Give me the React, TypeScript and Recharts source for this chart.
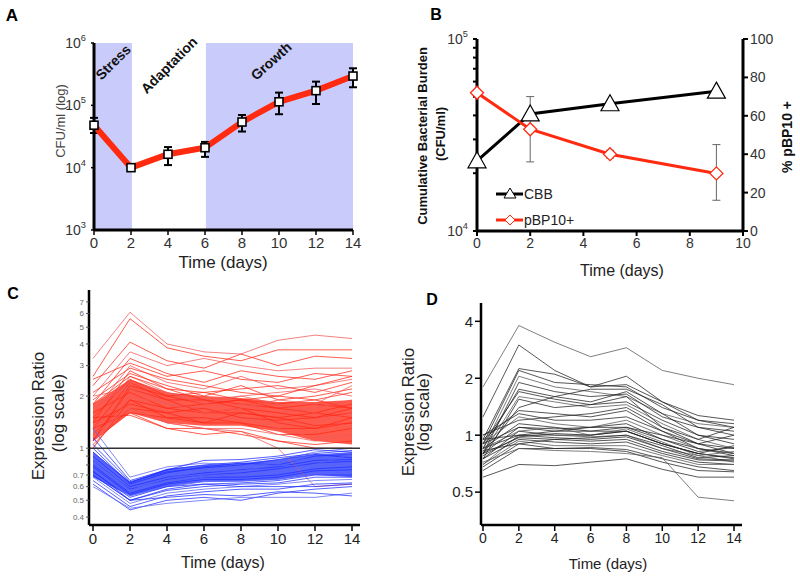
import React from 'react';
import { ComposedChart, Line, Area, XAxis, YAxis, ReferenceArea, ReferenceLine, ErrorBar } from 'recharts';

const FONT = '"Liberation Sans", Arial, Helvetica, sans-serif';

// ---- Panel A: CFU over time ----
const DAYS_A = [0, 2, 4, 6, 8, 10, 12, 14];
const CFU_A = [48000, 10000, 16400, 20900, 54000, 114000, 172000, 295000];
const CFU_ERR_LOW = [12000, null, 5400, 6000, 16000, 42000, 67000, 100000];
const CFU_ERR_HIGH = [15000, null, 5000, 5000, 16000, 46000, 68000, 98000];

// ---- Panel B: cumulative burden vs plasmid carriage ----
const DAYS_B = [0, 2, 5, 9];
const CBB = [23200, 40700, 46000, 53500];
const PBP10 = [72, 53, 40, 30];
const PBP10_ERR_LOW = [0, 17, 2, 14];
const PBP10_ERR_HIGH = [0, 17, 2, 15];

// ---- Panel C: expression ratios, up (red) and down (blue) genes ----
const DAYS_C = [0, 2, 4, 6, 8, 10, 12, 14];
const RED_BAND_LOW = [1.1, 1.6, 1.4, 1.35, 1.35, 1.25, 1.1, 1.05];
const RED_BAND_HIGH = [1.8, 2.5, 2.1, 2.0, 1.95, 1.85, 1.85, 1.9];
const BLUE_BAND_LOW = [0.68, 0.53, 0.6, 0.64, 0.64, 0.66, 0.7, 0.68];
const BLUE_BAND_HIGH = [0.95, 0.64, 0.76, 0.8, 0.82, 0.86, 0.92, 0.95];
const RED_LINES = [
  [3.3, 6.1, 4.0, 3.6, 3.5, 4.2, 4.5, 4.3],
  [2.6, 5.6, 3.8, 3.4, 3.2, 3.7, 3.7, 3.7],
  [2.3, 4.1, 3.2, 2.9, 3.5, 3.0, 3.4, 3.3],
  [2.0, 3.6, 3.0, 3.3, 3.0, 2.8, 2.9, 2.9],
  [1.8, 3.3, 2.7, 2.4, 2.8, 2.6, 2.5, 2.8],
  [2.5, 3.1, 2.6, 2.8, 2.5, 2.4, 2.7, 2.6],
  [1.6, 3.0, 2.4, 2.2, 2.6, 2.2, 2.3, 2.5],
  [1.4, 2.8, 2.2, 2.1, 2.2, 2.3, 2.1, 2.4],
  [1.9, 2.7, 2.3, 2.0, 2.3, 1.9, 2.0, 2.2],
  [1.2, 2.6, 2.1, 1.9, 2.0, 2.1, 2.2, 2.0],
  [1.5, 2.5, 2.0, 1.8, 1.9, 1.8, 1.9, 2.1],
  [1.3, 2.4, 1.9, 1.9, 1.8, 1.7, 1.8, 1.7],
  [1.7, 2.3, 1.8, 1.7, 1.8, 1.6, 1.7, 1.9],
  [1.1, 2.2, 1.9, 1.6, 1.7, 1.6, 1.5, 1.6],
  [1.6, 2.1, 1.7, 1.6, 1.6, 1.5, 1.6, 1.5],
  [1.3, 2.0, 1.6, 1.5, 1.5, 1.4, 1.4, 1.6],
  [1.0, 1.9, 1.5, 1.5, 1.4, 1.3, 1.3, 1.4],
  [1.4, 1.8, 1.6, 1.4, 1.4, 1.2, 1.2, 1.3],
  [1.2, 1.7, 1.4, 1.3, 1.3, 1.2, 1.1, 1.2],
  [1.1, 1.6, 1.3, 1.3, 1.2, 1.1, 1.05, 1.1],
  [1.5, 1.55, 1.3, 1.2, 1.25, 1.1, 1.0, 1.0],
  [2.0, 2.2, 1.8, 1.7, 1.5, 1.3, 1.15, 1.2],
  [1.8, 2.6, 2.2, 1.9, 1.7, 1.4, 1.3, 1.5],
  [1.2, 1.9, 1.7, 1.8, 1.9, 1.7, 1.6, 1.8],
  [1.0, 2.0, 1.8, 1.6, 1.7, 1.9, 1.8, 2.3],
  [1.1, 2.3, 2.0, 2.1, 1.9, 2.0, 1.9, 1.7],
  [1.3, 1.6, 1.5, 1.4, 1.6, 1.5, 1.35, 1.4],
  [1.7, 2.4, 2.1, 1.8, 2.0, 1.8, 1.6, 1.3],
  [2.1, 2.9, 2.5, 2.3, 2.1, 2.0, 2.3, 2.6],
  [1.05, 1.7, 1.6, 1.7, 1.5, 1.45, 1.5, 1.7],
  [1.2, 1.7, 1.4, 1.3, 1.25, 1.0, 0.6, 0.62],
];
const BLUE_LINES = [
  [1.3, 0.68, 0.78, 0.82, 0.8, 0.85, 0.95, 1.0],
  [1.15, 0.65, 0.75, 0.85, 0.86, 0.9, 0.98, 0.95],
  [1.0, 0.62, 0.72, 0.78, 0.82, 0.8, 0.9, 0.92],
  [0.95, 0.6, 0.7, 0.75, 0.78, 0.82, 0.88, 0.9],
  [0.9, 0.6, 0.68, 0.72, 0.75, 0.78, 0.85, 0.86],
  [0.85, 0.58, 0.66, 0.7, 0.72, 0.76, 0.82, 0.84],
  [0.82, 0.56, 0.65, 0.7, 0.7, 0.72, 0.8, 0.8],
  [0.8, 0.55, 0.63, 0.68, 0.68, 0.7, 0.76, 0.78],
  [0.78, 0.54, 0.62, 0.66, 0.66, 0.68, 0.74, 0.75],
  [0.75, 0.53, 0.6, 0.64, 0.65, 0.66, 0.72, 0.72],
  [0.73, 0.52, 0.6, 0.62, 0.63, 0.65, 0.7, 0.7],
  [0.7, 0.5, 0.57, 0.6, 0.62, 0.63, 0.68, 0.68],
  [0.68, 0.48, 0.55, 0.58, 0.6, 0.62, 0.65, 0.66],
  [0.65, 0.46, 0.53, 0.56, 0.58, 0.58, 0.62, 0.63],
  [0.62, 0.44, 0.5, 0.52, 0.5, 0.55, 0.58, 0.6],
  [0.6, 0.45, 0.48, 0.5, 0.52, 0.52, 0.52, 0.55],
  [0.7, 0.5, 0.52, 0.54, 0.53, 0.56, 0.55, 0.53],
  [0.95, 0.63, 0.75, 0.8, 0.83, 0.88, 0.93, 0.97],
  [0.88, 0.57, 0.67, 0.74, 0.74, 0.8, 0.78, 0.82],
  [0.74, 0.5, 0.58, 0.62, 0.6, 0.6, 0.6, 0.62],
  [1.05, 0.64, 0.73, 0.77, 0.8, 0.86, 0.92, 0.88],
  [0.85, 0.59, 0.64, 0.68, 0.71, 0.74, 0.8, 0.93],
];

// ---- Panel D: expression ratios of a selected gene set ----
const DAYS_D = [0, 2, 4, 6, 8, 10, 12, 14];
const GRAY_LINES = [
  [1.8, 3.8, 3.1, 2.6, 2.9, 2.2, 2.0, 1.85],
  [1.25, 3.0, 2.2, 1.8, 2.05, 1.5, 1.27, 1.2],
  [0.95, 2.25, 2.1, 1.8, 1.85, 1.5, 1.2, 1.15],
  [0.9, 2.2, 1.9, 1.85, 1.8, 1.4, 1.2, 1.1],
  [0.85, 2.05, 1.8, 1.7, 1.6, 1.3, 1.15, 1.1],
  [0.8, 1.9, 1.7, 1.6, 1.65, 1.25, 1.1, 1.05],
  [0.85, 1.75, 1.6, 1.5, 1.7, 1.3, 1.0, 0.95],
  [0.9, 1.7, 1.55, 1.45, 1.5, 1.2, 1.0, 0.9],
  [0.8, 1.6, 1.5, 1.4, 1.45, 1.15, 0.95, 0.85],
  [0.75, 1.55, 1.4, 1.45, 1.6, 1.1, 0.9, 0.8],
  [0.95, 1.35, 1.3, 1.25, 1.35, 1.05, 0.85, 0.8],
  [1.0, 1.3, 1.2, 1.2, 1.25, 1.05, 0.9, 0.85],
  [0.9, 1.25, 1.15, 1.1, 1.2, 1.0, 0.85, 0.8],
  [0.85, 1.15, 1.1, 1.05, 1.1, 0.95, 0.85, 0.78],
  [0.8, 1.1, 1.05, 1.05, 1.05, 0.9, 0.8, 0.75],
  [0.75, 1.05, 1.0, 1.0, 1.05, 0.9, 0.8, 0.76],
  [0.7, 1.0, 1.0, 0.98, 1.0, 0.85, 0.78, 0.72],
  [0.85, 1.0, 0.97, 0.95, 0.98, 0.85, 0.75, 0.74],
  [0.8, 0.97, 0.95, 0.93, 0.95, 0.82, 0.74, 0.73],
  [0.75, 0.95, 0.92, 0.9, 0.92, 0.8, 0.72, 0.7],
  [0.7, 0.93, 0.88, 0.88, 0.88, 0.78, 0.7, 0.7],
  [0.68, 0.9, 0.85, 0.86, 0.84, 0.75, 0.68, 0.65],
  [0.65, 0.85, 0.85, 0.85, 0.82, 0.72, 0.65, 0.64],
  [0.6, 0.7, 0.69, 0.72, 0.75, 0.66, 0.6, 0.6],
  [0.72, 0.85, 0.83, 0.82, 0.8, 0.76, 0.47, 0.45],
  [0.9, 1.1, 1.08, 1.1, 1.15, 0.95, 0.82, 0.86],
  [1.0, 1.2, 1.25, 1.3, 1.4, 1.1, 0.95, 1.1],
  [0.8, 1.4, 1.6, 1.75, 1.75, 1.45, 1.1, 1.0],
  [0.85, 1.05, 1.1, 1.0, 1.08, 0.92, 0.78, 0.82],
  [0.78, 0.98, 1.02, 1.0, 1.05, 0.9, 0.8, 0.88],
  [0.95, 1.0, 1.05, 1.1, 1.1, 1.0, 0.9, 1.0],
  [0.83, 0.9, 0.95, 0.97, 1.0, 0.88, 0.76, 0.78],
];

const EVEN_DAYS = [0, 2, 4, 6, 8, 10, 12, 14];
const C_TICKS = [0.4, 0.5, 0.6, 0.7, 0.8, 0.9, 1, 2, 3, 4, 5, 6, 7];
const D_TICKS = [0.5, 1, 2, 4];

const growthRows = DAYS_A.map((day, i) => ({
  day,
  cfu: CFU_A[i],
  err: CFU_ERR_LOW[i] == null ? null : [CFU_ERR_LOW[i], CFU_ERR_HIGH[i]],
}));

const burdenRows = DAYS_B.map((day, i) => ({
  day,
  cbb: CBB[i],
  pct: PBP10[i],
  pctErr: [PBP10_ERR_LOW[i], PBP10_ERR_HIGH[i]],
}));

const exprRows = DAYS_C.map((day, i) => {
  const row: any = {
    day,
    redBand: [RED_BAND_LOW[i], RED_BAND_HIGH[i]],
    blueBand: [BLUE_BAND_LOW[i], BLUE_BAND_HIGH[i]],
  };
  RED_LINES.forEach((l, j) => { row['r' + j] = l[i]; });
  BLUE_LINES.forEach((l, j) => { row['b' + j] = l[i]; });
  return row;
});

const setRows = DAYS_D.map((day, i) => {
  const row: any = { day };
  GRAY_LINES.forEach((l, j) => { row['g' + j] = l[i]; });
  return row;
});

const PowerTick = (props: any) => {
  const { x, y, payload, size = 15 } = props;
  const exp = Math.round(Math.log10(payload.value));
  return (
    <text x={x - 3} y={y + 5} textAnchor="end" fill="#333" fontSize={size} fontFamily={FONT}>
      <tspan>10</tspan>
      <tspan dy={-7} fontSize={size * 0.66}>{exp}</tspan>
    </text>
  );
};

const SquareDot = (props: any) => {
  const { cx, cy, index } = props;
  return <rect key={'sq' + index} x={cx - 4} y={cy - 4} width={8} height={8} fill="#fff" stroke="#000" strokeWidth={1.6} />;
};

const TriangleDot = (props: any) => {
  const { cx, cy, index } = props;
  return <path key={'tr' + index} d={`M${cx},${cy - 9}L${cx + 9},${cy + 7}L${cx - 9},${cy + 7}Z`} fill="#fff" stroke="#000" strokeWidth={1.2} />;
};

const DiamondDot = (props: any) => {
  const { cx, cy, index } = props;
  return <path key={'dm' + index} d={`M${cx},${cy - 6.5}L${cx + 6.5},${cy}L${cx},${cy + 6.5}L${cx - 6.5},${cy}Z`} fill="#fff" stroke="#ff2a10" strokeWidth={1.3} />;
};

const Txt = ({ x, y, size, rot = 0, weight = 400, color = '#222', children }: any) => (
  <div
    style={{
      position: 'absolute', left: x, top: y, transform: `translate(-50%, -50%) rotate(${rot}deg)`,
      fontSize: size, fontWeight: weight, color, whiteSpace: 'nowrap', fontFamily: FONT, lineHeight: 1,
    }}
  >
    {children}
  </div>
);

const Panel = ({ left, top, children }: any) => (
  <div style={{ position: 'absolute', left, top }}>{children}</div>
);

const axisBlack = { stroke: '#000', strokeWidth: 3 };

export default function App() {
  return (
    <div style={{ position: 'fixed', left: 0, top: 0, width: 800, height: 577, background: '#fff', fontFamily: FONT, overflow: 'hidden' }}>
      {/* A */}
      <Panel left={0} top={0}>
        <ComposedChart width={400} height={280} data={growthRows} margin={{ top: 43, right: 47, bottom: 20, left: 34 }}>
          <ReferenceArea x1={0} x2={2.05} fill="#c9cbfa" fillOpacity={1} stroke="none" />
          <ReferenceArea x1={6.05} x2={14} fill="#c9cbfa" fillOpacity={1} stroke="none" />
          <XAxis dataKey="day" type="number" domain={[0, 14]} ticks={EVEN_DAYS} height={30} interval={0}
            axisLine={axisBlack} tickLine={{ stroke: '#000', strokeWidth: 1.5 }} tickSize={5}
            tick={{ fill: '#333', fontSize: 15, fontFamily: FONT }} />
          <YAxis scale="log" domain={[1000, 1000000]} ticks={[1000, 10000, 100000, 1000000]} width={60} interval={0}
            allowDataOverflow axisLine={axisBlack} tickLine={{ stroke: '#000', strokeWidth: 1.5 }} tickSize={3}
            tick={<PowerTick size={14} />} />
          <Line dataKey="cfu" type="linear" stroke="#ff2a10" strokeWidth={6} dot={<SquareDot />} isAnimationActive={false}>
            <ErrorBar dataKey="err" width={4} strokeWidth={2} stroke="#000" direction="y" />
          </Line>
        </ComposedChart>
      </Panel>
      <Txt x={12} y={15} size={17} weight={700} color="#000">A</Txt>
      <Txt x={113} y={62} size={14} weight={700} rot={-45} color="#111">Stress</Txt>
      <Txt x={169} y={65} size={14} weight={700} rot={-45} color="#111">Adaptation</Txt>
      <Txt x={271} y={61} size={14} weight={700} rot={-42} color="#111">Growth</Txt>
      <Txt x={60} y={121} size={13} rot={-90} color="#444">CFU/ml  (log)</Txt>
      <Txt x={223} y={262} size={17} color="#222">Time (days)</Txt>

      {/* B */}
      <Panel left={400} top={0}>
        <ComposedChart width={400} height={280} data={burdenRows} margin={{ top: 39, right: 17, bottom: 19, left: 37 }}>
          <XAxis dataKey="day" type="number" domain={[0, 10]} ticks={[0, 2, 4, 6, 8, 10]} height={30} interval={0}
            axisLine={axisBlack} tickLine={{ stroke: '#000', strokeWidth: 2 }} tickSize={5}
            tick={{ fill: '#333', fontSize: 14, fontFamily: FONT }} />
          <YAxis yAxisId="cbb" scale="log" domain={[10000, 100000]} width={40} allowDataOverflow interval={0}
            ticks={[10000, 20000, 30000, 40000, 50000, 60000, 70000, 80000, 90000, 100000]}
            axisLine={axisBlack} tickLine={{ stroke: '#000', strokeWidth: 2 }} tickSize={4}
            tick={(p: any) => ([10000, 100000].includes(p.payload.value) ? <PowerTick {...p} size={14} /> : <g />)} />
          <YAxis yAxisId="pct" orientation="right" domain={[0, 100]} ticks={[0, 20, 40, 60, 80, 100]} width={40} interval={0}
            axisLine={axisBlack} tickLine={{ stroke: '#000', strokeWidth: 2 }} tickSize={5}
            tick={{ fill: '#333', fontSize: 14, fontFamily: FONT }} />
          <Line yAxisId="cbb" dataKey="cbb" type="linear" stroke="#000" strokeWidth={3} dot={<TriangleDot />} isAnimationActive={false} />
          <Line yAxisId="pct" dataKey="pct" type="linear" stroke="#ff2a10" strokeWidth={3} dot={<DiamondDot />} isAnimationActive={false}>
            <ErrorBar dataKey="pctErr" width={4} strokeWidth={1} stroke="#666" direction="y" />
          </Line>
        </ComposedChart>
      </Panel>
      <Txt x={436} y={15} size={16} weight={700} color="#000">B</Txt>
      <Txt x={422} y={136} size={13} weight={700} rot={-90} color="#111">Cumulative Bacterial Burden</Txt>
      <Txt x={440} y={134} size={13} weight={700} rot={-90} color="#111">(CFU/ml)</Txt>
      <Txt x={787} y={137} size={14} weight={700} rot={-90} color="#111">% pBP10 +</Txt>
      <Txt x={622} y={271} size={16} color="#222">Time (days)</Txt>
      <div style={{ position: 'absolute', left: 494, top: 184, fontFamily: FONT, fontSize: 14, color: '#222' }}>
        <div style={{ display: 'flex', alignItems: 'center', height: 20 }}>
          <svg width={30} height={20}>
            <line x1={2} y1={10} x2={29} y2={10} stroke="#000" strokeWidth={3} />
            <path d="M16,4L22,14L10,14Z" fill="#fff" stroke="#000" strokeWidth={1} />
          </svg>
          <span>CBB</span>
        </div>
        <div style={{ display: 'flex', alignItems: 'center', height: 20, marginTop: 6 }}>
          <svg width={30} height={20}>
            <line x1={2} y1={10} x2={29} y2={10} stroke="#ff2a10" strokeWidth={3} />
            <path d="M16,5L21,10L16,15L11,10Z" fill="#fff" stroke="#ff2a10" strokeWidth={1} />
          </svg>
          <span>pBP10+</span>
        </div>
      </div>

      {/* C */}
      <Panel left={0} top={280}>
        <ComposedChart width={400} height={297} data={exprRows} margin={{ top: 10, right: 40, bottom: 22, left: 39 }}>
          <XAxis dataKey="day" type="number" domain={[0, 14]} ticks={EVEN_DAYS} height={30} padding={{ left: 4, right: 8 }} interval={0}
            axisLine={{ stroke: '#000', strokeWidth: 2.5 }} tickLine={{ stroke: '#000', strokeWidth: 1.5 }} tickSize={6}
            tick={{ fill: '#222', fontSize: 15, fontFamily: FONT }} />
          <YAxis scale="log" domain={[0.36, 8.2]} ticks={C_TICKS} width={50} allowDataOverflow interval={0}
            tickFormatter={(v: number) => (v === 0.8 || v === 0.9 ? '' : String(v))}
            axisLine={{ stroke: '#000', strokeWidth: 2.5 }} tickLine={{ stroke: '#555', strokeWidth: 1 }} tickSize={3}
            tick={{ fill: '#666', fontSize: 8, fontFamily: FONT }} />
          <Area dataKey="redBand" type="linear" fill="#ff2410" fillOpacity={0.75} stroke="none" isAnimationActive={false} />
          <Area dataKey="blueBand" type="linear" fill="#1f30ff" fillOpacity={0.75} stroke="none" isAnimationActive={false} />
          {RED_LINES.map((_, j) => (
            <Line key={'r' + j} dataKey={'r' + j} type="linear" stroke={j % 3 === 0 ? '#f05a5a' : '#ff2a1a'} strokeOpacity={0.85}
              strokeWidth={0.9} dot={false} isAnimationActive={false} />
          ))}
          {BLUE_LINES.map((_, j) => (
            <Line key={'b' + j} dataKey={'b' + j} type="linear" stroke={j % 3 === 0 ? '#5a64f0' : '#1f2fff'} strokeOpacity={0.85}
              strokeWidth={0.9} dot={false} isAnimationActive={false} />
          ))}
          <ReferenceLine y={1} stroke="#333" strokeWidth={1.5} />
        </ComposedChart>
      </Panel>
      <Txt x={13} y={294} size={16} weight={700} color="#000">C</Txt>
      <Txt x={38} y={416} size={17} rot={-90} color="#222">Expression Ratio</Txt>
      <Txt x={58} y={413} size={17} rot={-90} color="#222">(log scale)</Txt>
      <Txt x={223} y={563} size={16} color="#222">Time (days)</Txt>

      {/* D */}
      <Panel left={400} top={280}>
        <ComposedChart width={400} height={297} data={setRows} margin={{ top: 23, right: 58, bottom: 22, left: 31 }}>
          <XAxis dataKey="day" type="number" domain={[0, 14]} ticks={EVEN_DAYS} height={30} padding={{ left: 2, right: 8 }} interval={0}
            axisLine={{ stroke: '#000', strokeWidth: 2.5 }} tickLine={{ stroke: '#000', strokeWidth: 1.5 }} tickSize={6}
            tick={{ fill: '#222', fontSize: 14, fontFamily: FONT }} />
          <YAxis scale="log" domain={[0.335, 5]} ticks={D_TICKS} width={50} allowDataOverflow interval={0}
            axisLine={{ stroke: '#000', strokeWidth: 2.5 }} tickLine={{ stroke: '#000', strokeWidth: 1.5 }} tickSize={6}
            tick={{ fill: '#222', fontSize: 15, fontFamily: FONT }} />
          {GRAY_LINES.map((_, j) => (
            <Line key={'g' + j} dataKey={'g' + j} type="linear" stroke={j % 4 === 0 ? '#555' : '#222'} strokeOpacity={0.85}
              strokeWidth={0.9} dot={false} isAnimationActive={false} />
          ))}
        </ComposedChart>
      </Panel>
      <Txt x={432} y={300} size={16} weight={700} color="#000">D</Txt>
      <Txt x={408} y={412} size={17} rot={-90} color="#222">Expression Ratio</Txt>
      <Txt x={423} y={412} size={17} rot={-90} color="#222">(log scale)</Txt>
      <Txt x={608} y={563} size={15} color="#222">Time (days)</Txt>
    </div>
  );
}
